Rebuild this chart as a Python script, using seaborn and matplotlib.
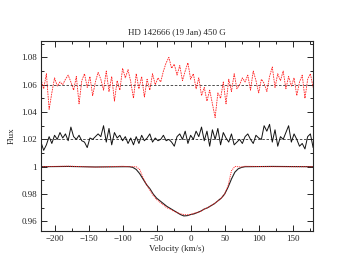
import numpy as np
import pandas as pd
import matplotlib
matplotlib.use("Agg")
import matplotlib.pyplot as plt
from matplotlib.ticker import MultipleLocator
import seaborn as sns

# velocity grid of the Stokes V / N panels (km/s)
vel = np.arange(-220, 181, 4)

# null profile (red dashed), offsets in units of 0.001 about 1.06
null_off = [4, -3, 8, -18, -6, 5, -1, 2, 0, 4, 7, 2, -4, 6, -14, 3, 8, -2, 6, -8,
            2, 9, 4, -4, 10, -5, 6, -12, 3, -4, 12, 5, 11, 2, -10, 8, -3, 6, -9, 4,
            -4, 8, 0, 5, 2, 10, 16, 20, 12, 15, 7, 14, 3, 10, 16, 4, 8, -3, 5, -8,
            -2, -12, -4, -14, -24, -6, -10, 2, -14, 4, -5, 8, -3, 0, 5, 2, 7, -4, 10, 3,
            -6, 4, 1, -5, 6, 13, -2, 8, 3, 10, -3, 6, -1, 5, -8, 2, 7, -10, 4, 8, -2]

# Stokes V (black), offsets in units of 0.001 about 1.02
stokesv_off = [-2, -8, -4, 2, -3, 3, 0, 5, 1, 4, -1, 9, 2, 0, 3, -1, -2, -6, 1, 0,
               2, 4, 2, 10, -2, 8, -4, 5, 1, 3, -1, 2, -3, 1, -4, 2, -3, 3, -1, 1,
               4, -2, 1, -1, 0, 3, -1, 0, -2, -5, 2, 4, 0, 6, -3, 3, 0, 6, 2, 9,
               -1, 6, -5, 7, 0, 8, -4, 5, 1, -2, 4, -4, -2, 0, -3, 2, 4, 0, -3, 3,
               1, 0, 10, 6, 11, -2, 7, -5, 2, 0, 5, 10, -2, 4, 0, -5, -3, -7, 2, 4, -6]

# Stokes I: observed (black) and model (red dotted)
prof_v = [-220, -180, -140, -100, -90, -85, -80, -75, -70, -65, -60, -55, -50, -45, -40,
          -35, -30, -25, -20, -15, -10, -5, 0, 5, 10, 15, 20, 25, 30, 35, 40, 45,
          50, 55, 60, 65, 70, 75, 80, 120, 180]
prof_obs = [1.0, 1.0002, 0.9998, 1.0, 1.0, 0.9995, 0.998, 0.995, 0.991, 0.987, 0.984,
            0.980, 0.977, 0.975, 0.973, 0.971, 0.9695, 0.968, 0.9665, 0.965, 0.964,
            0.9642, 0.965, 0.9655, 0.9665, 0.9675, 0.969, 0.970, 0.9715, 0.973, 0.975,
            0.977, 0.980, 0.985, 0.991, 0.996, 0.9985, 0.9995, 1.0, 1.0002, 1.0]
prof_mod = [1.0, 1.0004, 0.9997, 1.0003, 1.0, 1.0, 1.0, 0.998, 0.992, 0.987, 0.983,
            0.979, 0.976, 0.974, 0.972, 0.970, 0.969, 0.9675, 0.9665, 0.9655, 0.965,
            0.9648, 0.965, 0.966, 0.9665, 0.9675, 0.969, 0.970, 0.9715, 0.973, 0.975,
            0.977, 0.980, 0.986, 0.997, 1.0002, 1.0, 0.9998, 1.0003, 1.0, 1.0]

null_df = pd.DataFrame({"v": vel, "flux": 1.06 + np.array(null_off) / 1000})
stokesv_df = pd.DataFrame({"v": vel, "flux": 1.02 + np.array(stokesv_off) / 1000})
prof_df = pd.DataFrame({"v": prof_v, "obs": prof_obs, "mod": prof_mod})

sns.set_style("ticks")
plt.rcParams["font.family"] = ["Liberation Serif", "DejaVu Serif"]
plt.rcParams["font.size"] = 6.5

fig = plt.figure(figsize=(3.53, 2.73), dpi=100)
ax = fig.add_axes([0.116, 0.154, 0.771, 0.696])

# reference levels
ax.axhline(1.06, color="#333333", lw=0.6, ls=(0, (3, 2)))
ax.axhline(1.02, color="#333333", lw=0.6, ls=(0, (3, 2)))

sns.lineplot(data=null_df, x="v", y="flux", ax=ax, color="#ff2020", lw=0.6,
             linestyle=(0, (2, 1)))
sns.lineplot(data=stokesv_df, x="v", y="flux", ax=ax, color="#111111", lw=0.7)
sns.lineplot(data=prof_df, x="v", y="obs", ax=ax, color="#222222", lw=0.8)
sns.lineplot(data=prof_df, x="v", y="mod", ax=ax, color="#ff2020", lw=0.7,
             linestyle=(0, (1, 1)))

ax.set_xlim(-220, 180)
ax.set_ylim(0.953, 1.092)
ax.xaxis.set_major_locator(MultipleLocator(50))
ax.xaxis.set_minor_locator(MultipleLocator(25))
ax.yaxis.set_minor_locator(MultipleLocator(0.01))
ax.set_yticks([0.96, 0.98, 1.0, 1.02, 1.04, 1.06, 1.08])
ax.set_yticklabels(["0.96", "0.98", "1", "1.02", "1.04", "1.06", "1.08"])
ax.tick_params(which="both", direction="in", top=True, right=True, labelsize=6.5,
               width=0.7, pad=3)
ax.tick_params(which="major", length=4)
ax.tick_params(which="minor", length=2)
for s in ax.spines.values():
    s.set_linewidth(0.8)

ax.set_xlabel("Velocity (km/s)", fontsize=6.5, labelpad=1)
ax.set_ylabel("Flux", fontsize=6.5, labelpad=4)
ax.set_title("HD 142666 (19 Jan) 450 G", fontsize=6.5, pad=5)

fig.savefig("out.png", dpi=100)
